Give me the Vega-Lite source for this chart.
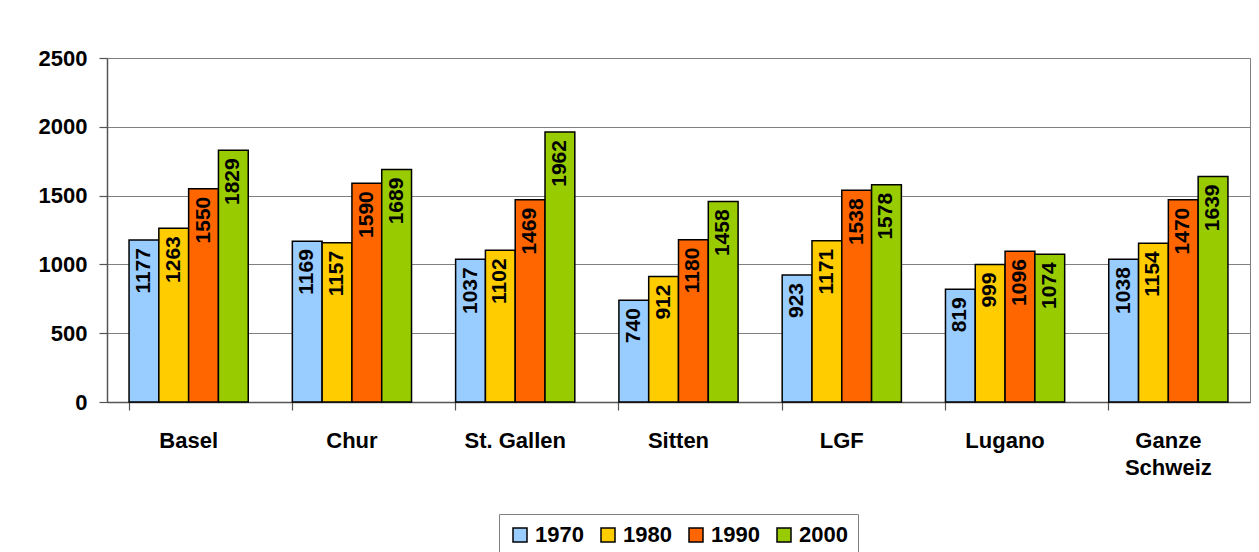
{
  "$schema": "https://vega.github.io/schema/vega-lite/v6.json",
  "autosize": "none",
  "width": 1143,
  "height": 344,
  "padding": {"left": 107, "top": 58, "right": 9, "bottom": 150},
  "background": "white",
  "data": {"values": [
    {"city": "Basel", "year": "1970", "value": 1177},
    {"city": "Basel", "year": "1980", "value": 1263},
    {"city": "Basel", "year": "1990", "value": 1550},
    {"city": "Basel", "year": "2000", "value": 1829},
    {"city": "Chur", "year": "1970", "value": 1169},
    {"city": "Chur", "year": "1980", "value": 1157},
    {"city": "Chur", "year": "1990", "value": 1590},
    {"city": "Chur", "year": "2000", "value": 1689},
    {"city": "St. Gallen", "year": "1970", "value": 1037},
    {"city": "St. Gallen", "year": "1980", "value": 1102},
    {"city": "St. Gallen", "year": "1990", "value": 1469},
    {"city": "St. Gallen", "year": "2000", "value": 1962},
    {"city": "Sitten", "year": "1970", "value": 740},
    {"city": "Sitten", "year": "1980", "value": 912},
    {"city": "Sitten", "year": "1990", "value": 1180},
    {"city": "Sitten", "year": "2000", "value": 1458},
    {"city": "LGF", "year": "1970", "value": 923},
    {"city": "LGF", "year": "1980", "value": 1171},
    {"city": "LGF", "year": "1990", "value": 1538},
    {"city": "LGF", "year": "2000", "value": 1578},
    {"city": "Lugano", "year": "1970", "value": 819},
    {"city": "Lugano", "year": "1980", "value": 999},
    {"city": "Lugano", "year": "1990", "value": 1096},
    {"city": "Lugano", "year": "2000", "value": 1074},
    {"city": "Ganze Schweiz", "year": "1970", "value": 1038},
    {"city": "Ganze Schweiz", "year": "1980", "value": 1154},
    {"city": "Ganze Schweiz", "year": "1990", "value": 1470},
    {"city": "Ganze Schweiz", "year": "2000", "value": 1639}
  ]},
  "encoding": {
    "x": {
      "field": "city", "type": "nominal", "sort": null,
      "scale": {"paddingInner": 0.27, "paddingOuter": 0.135},
      "axis": {
        "title": null, "labelAngle": 0, "bandPosition": 0,
        "labelExpr": "datum.label == 'Ganze Schweiz' ? ['Ganze', 'Schweiz'] : datum.label",
        "labelFont": "Liberation Sans", "labelFontSize": 22, "labelFontWeight": "bold",
        "labelColor": "black", "labelPadding": 20, "labelLineHeight": 27,
        "labelBaseline": "top",
        "domainColor": "#555555", "domainWidth": 1.5, "tickColor": "#555555", "tickSize": 8, "tickWidth": 1.2
      }
    },
    "xOffset": {"field": "year", "type": "nominal", "scale": {"paddingInner": 0, "paddingOuter": 0}},
    "y": {
      "field": "value", "type": "quantitative",
      "scale": {"domain": [0, 2500], "nice": false},
      "axis": {
        "title": null, "values": [0, 500, 1000, 1500, 2000, 2500], "format": "d",
        "labelFont": "Liberation Sans", "labelFontSize": 22, "labelFontWeight": "bold",
        "labelColor": "black", "labelPadding": 12,
        "gridColor": "#808080", "gridOpacity": 1, "gridWidth": 1,
        "domainColor": "#555555", "domainWidth": 1.5, "tickColor": "#555555", "tickSize": 8, "tickWidth": 1.2
      }
    }
  },
  "layer": [
    {
      "mark": {"type": "bar", "stroke": "black", "strokeWidth": 1.5},
      "encoding": {
        "color": {
          "field": "year", "type": "nominal",
          "scale": {"domain": ["1970", "1980", "1990", "2000"], "range": ["#99CCFF", "#FFCC00", "#FF6600", "#99CC00"]},
          "legend": {
            "title": null, "orient": "none", "legendX": 392, "legendY": 456,
            "direction": "horizontal", "columns": 4,
            "symbolType": "square", "symbolSize": 196, "symbolStrokeColor": "black", "symbolStrokeWidth": 1.5,
            "symbolOpacity": 1,
            "labelFont": "Liberation Sans", "labelFontSize": 22, "labelFontWeight": "bold", "labelColor": "black",
            "labelOffset": 4, "columnPadding": 13,
            "strokeColor": "#808080", "padding": 10
          }
        }
      }
    },
    {
      "mark": {"type": "text", "angle": 270, "align": "right", "baseline": "middle", "dx": -8,
               "font": "Liberation Sans", "fontSize": 21, "fontWeight": "bold", "color": "black"},
      "encoding": {"text": {"field": "value", "type": "quantitative"}}
    }
  ],
  "config": {
    "view": {"stroke": "#808080", "strokeWidth": 1}
  }
}
